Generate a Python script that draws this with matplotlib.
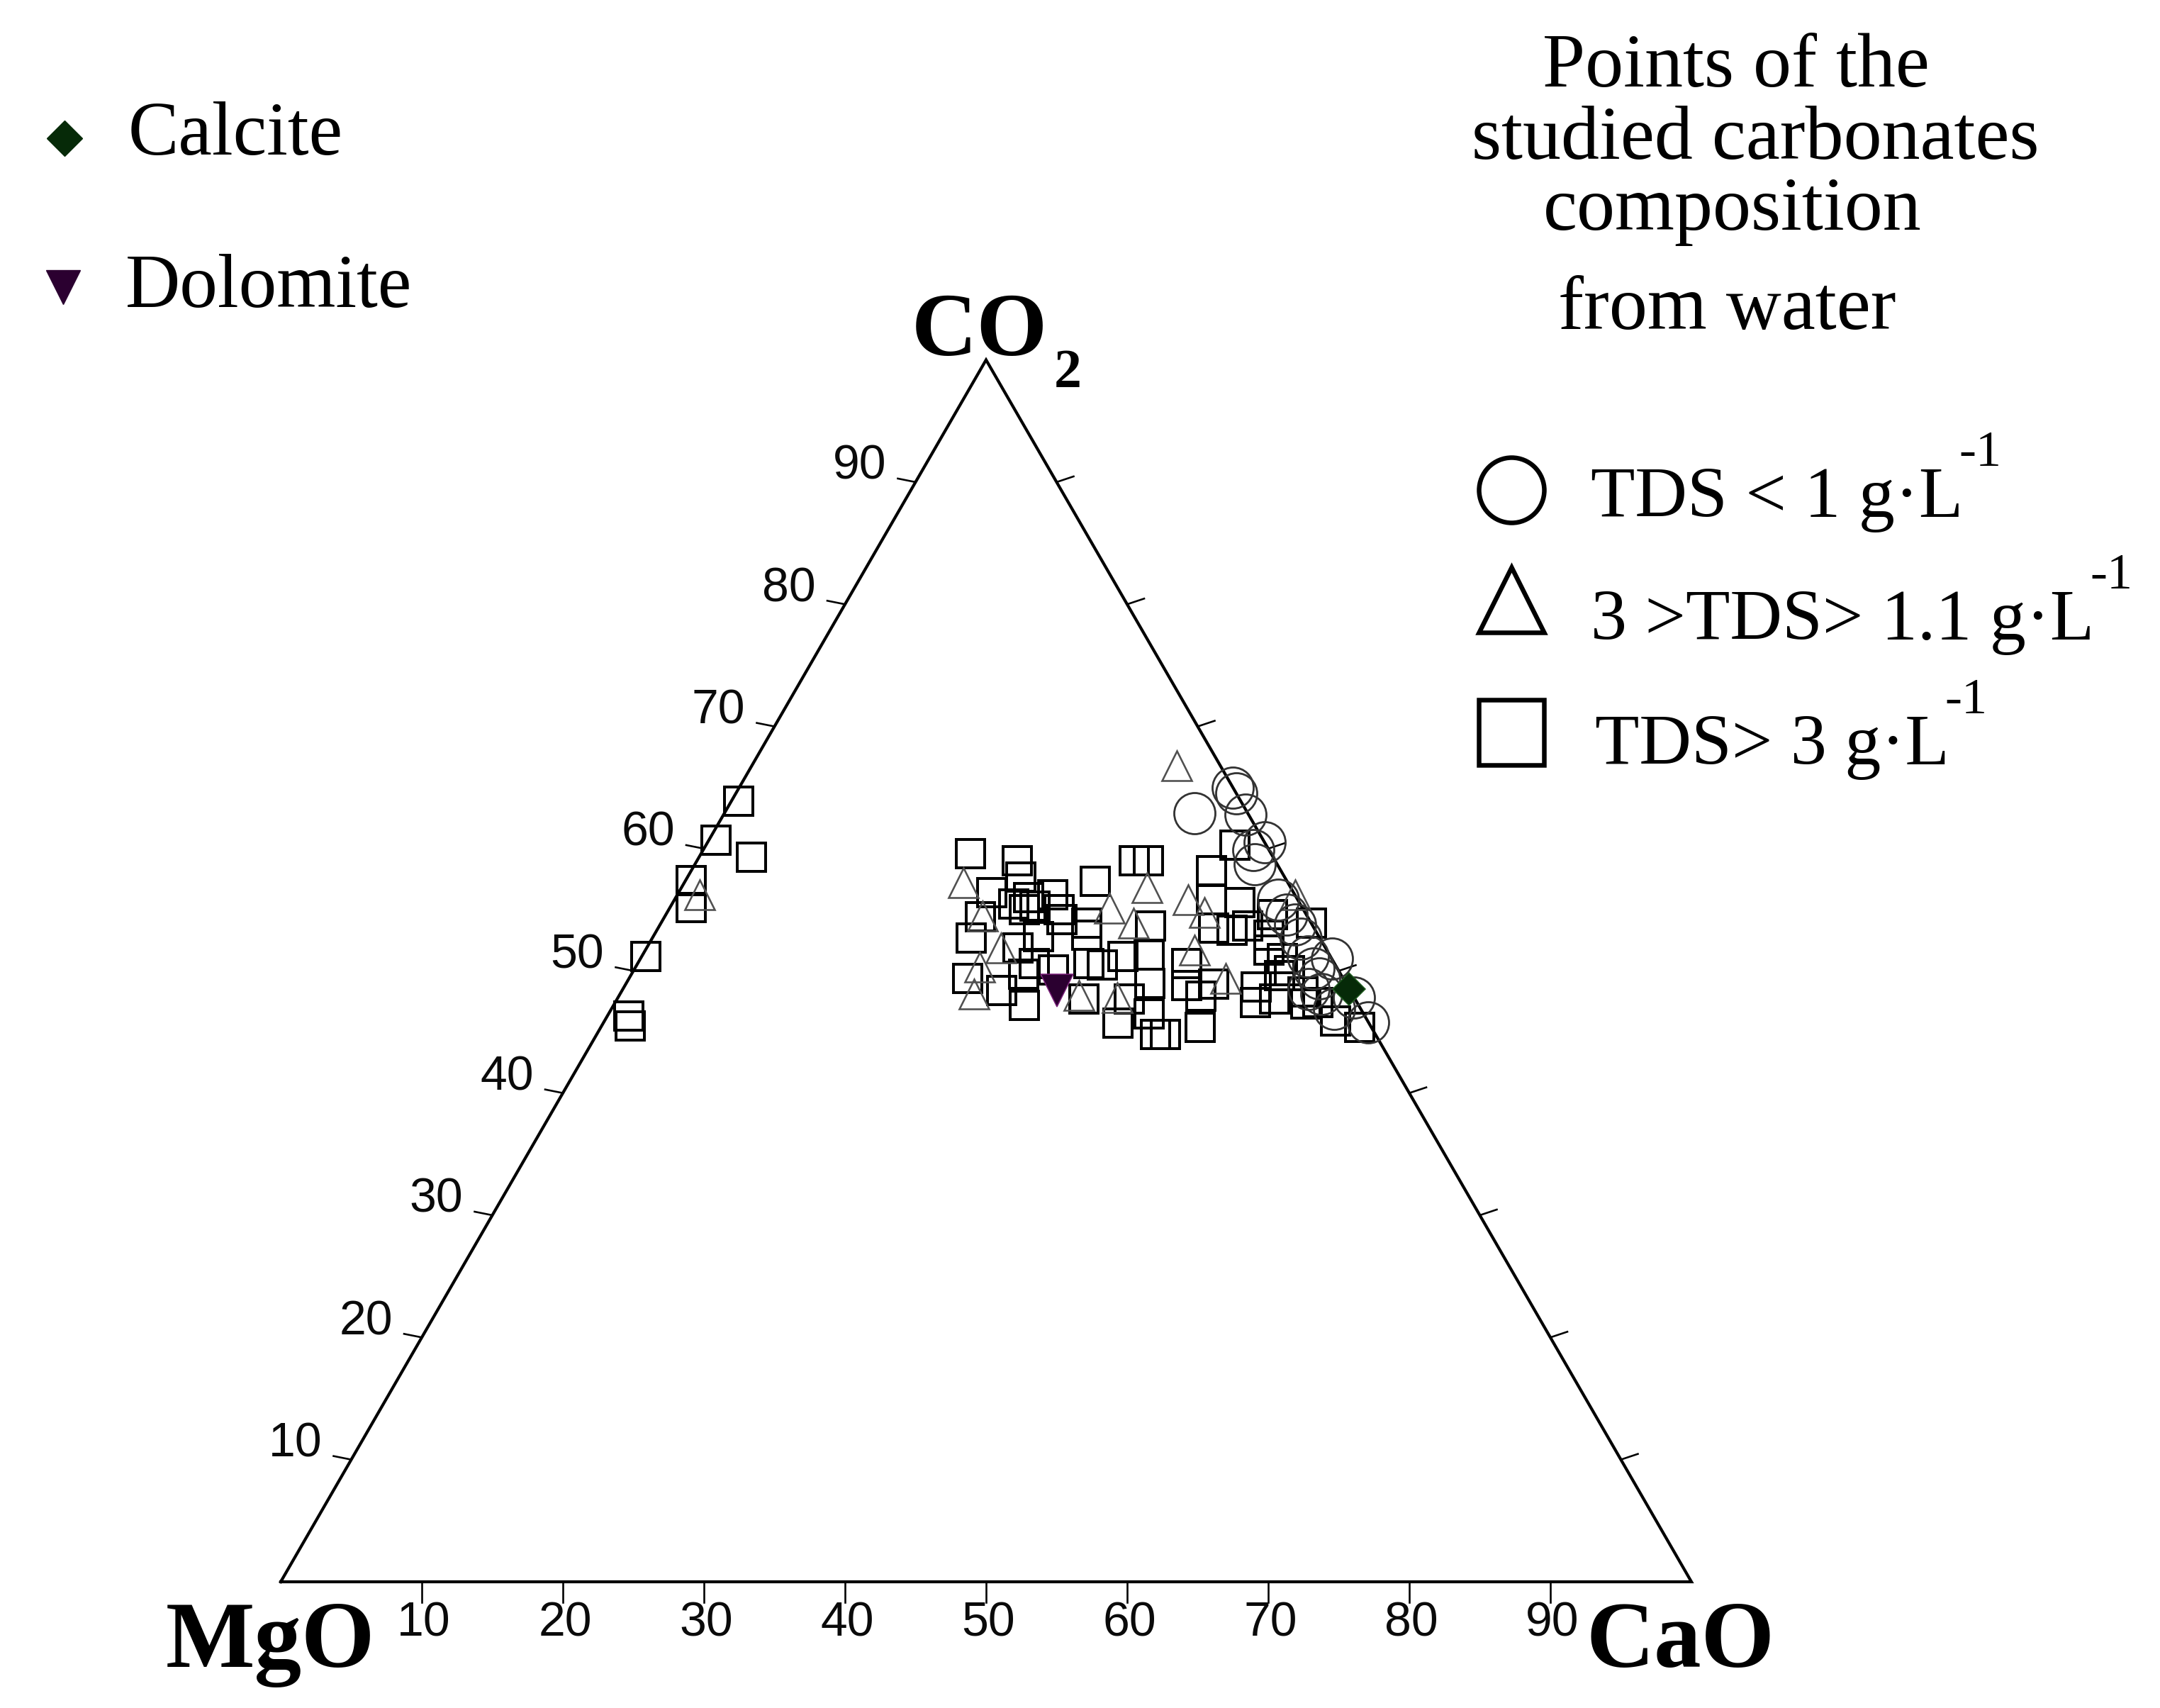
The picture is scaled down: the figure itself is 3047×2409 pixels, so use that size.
import numpy as np
import matplotlib
matplotlib.use("Agg")
import matplotlib.pyplot as plt
from matplotlib import font_manager

W, H, DPI = 3047, 2409, 100

# ---------------- data : CO2 % and CaO % (MgO = 100 - CO2 - CaO) ----------------
# TDS > 3 g/L  (squares)
sq_co2 = [63.9, 60.7, 59.3, 57.4, 55.2, 51.2, 46.3, 45.5,
          59.6, 59.0, 57.7, 56.4, 56.2, 55.5, 55.0, 55.3, 55.0, 54.4,
          52.7, 51.9, 52.8, 53.9, 57.3, 52.9, 49.4, 48.4, 49.7, 47.2,
          50.1, 47.7, 50.5, 51.2, 45.7, 47.7, 59.0, 59.0, 51.3, 53.7,
          46.5, 44.8, 49.0, 60.3, 58.2, 55.8, 55.6, 53.5, 53.3, 54.6,
          52.9, 53.9, 48.8, 47.9, 45.4, 44.8, 48.7, 47.4, 49.6, 47.3,
          45.9, 45.4, 51.0,
          53.7, 51.7, 50.0, 48.3, 47.4, 47.7, 56.0, 54.2, 50.6, 50.6,
          50.6, 48.9]
sq_cao = [0.5, 0.5, 3.7, 0.4, 1.5, 0.3, 1.5, 2.0,
          19.1, 22.7, 23.6, 22.2, 26.6, 24.2, 25.2, 25.8, 27.7, 22.4,
          22.6, 26.3, 27.3, 30.2, 29.1, 30.7, 24.0, 26.9, 27.8, 29.1,
          29.7, 33.1, 33.0, 34.1, 36.5, 36.3, 31.0, 32.0, 35.9, 34.8,
          38.3, 39.6, 37.1, 37.5, 36.9, 38.1, 40.2, 39.4, 40.8, 43.0,
          43.6, 46.1, 39.8, 41.3, 42.5, 40.3, 44.8, 45.4, 46.0, 49.0,
          51.8, 53.8, 45.5,
          41.7, 44.2, 46.5, 48.3, 49.8, 46.6, 25.0, 28.3, 28.1, 32.0,
          38.9, 41.7]

# 3 > TDS > 1.1 g/L  (triangles)
tri_co2 = [56.2, 57.2, 56.8, 55.1, 53.9, 50.3, 48.1, 48.0, 54.5,
           51.9, 66.8, 56.2, 55.8, 54.8, 49.4, 51.7, 47.8]
tri_cao = [1.6, 19.8, 33.0, 31.2, 33.5, 24.4, 25.1, 32.6, 22.5,
           25.1, 30.1, 43.8, 36.4, 38.1, 42.3, 38.9, 35.4]

# TDS < 1 g/L  (circles)
circ_co2 = [65.0, 64.5, 62.9, 62.8, 60.5, 58.7, 55.8, 54.6, 52.6, 51.2,
            50.2, 51.0, 48.1, 46.9, 45.8, 47.8, 53.8, 49.4, 48.5, 59.9]
circ_cao = [35.0, 35.5, 33.3, 37.0, 39.5, 39.7, 42.8, 44.0, 46.0, 47.2,
            48.1, 49.0, 49.7, 51.2, 54.2, 52.2, 45.0, 48.9, 48.6, 39.0]

# reference minerals
calcite_co2, calcite_cao = [48.5], [51.5]
dolomite_co2, dolomite_cao = [48.4], [30.8]

axis_ticks = [10, 20, 30, 40, 50, 60, 70, 80, 90]
title_lines = ["Points of the", "studied carbonates", "composition", "from water"]
tds_labels = ["TDS < 1 g\u00b7L", "3 >TDS> 1.1 g\u00b7L", "TDS> 3 g\u00b7L"]
mineral_labels = ["Calcite", "Dolomite"]


def tern(co2, cao):
    co2 = np.asarray(co2, float) / 100.0
    cao = np.asarray(cao, float) / 100.0
    return cao + 0.5 * co2, co2 * np.sqrt(3) / 2


SERIF = "Liberation Serif"
TICK_FONT = "Liberation Sans"

# layout (pixels of the output image)
S = 1990.0              # side of triangle
X0, Y0 = 396.0, 2231.0  # MgO vertex
px = 1.0 / S
pt = 0.72               # points per pixel at 100 dpi


def P(x, y):
    """image pixel (origin top-left) -> data coords"""
    return (x - X0) / S, (Y0 - y) / S


fig = plt.figure(figsize=(W / DPI, H / DPI), dpi=DPI)
ax = fig.add_axes([0, 0, 1, 1])
ax.set_xlim(-X0 / S, (W - X0) / S)
ax.set_ylim(-(H - Y0) / S, Y0 / S)
ax.axis("off")

# triangle frame
tx, ty = tern([0, 0, 100, 0], [0, 100, 0, 0])
ax.plot(tx, ty, color="black", lw=4.2 * pt, solid_joinstyle="miter", zorder=3)

tick_kw = dict(color="black", lw=2.6 * pt, zorder=3)
lab_font = dict(fontsize=68 * pt, family=TICK_FONT, color="#0a0a0a")
for t in axis_ticks:
    # left edge (CO2)
    x, y = tern(t, 0)
    ax.plot([x, x - 25 * px], [y, y + 5 * px], **tick_kw)
    ax.text(x - 79 * px, y + 22 * px, str(t), ha="center", va="center", **lab_font)
    # right edge (MgO) - ticks only
    x, y = tern(t, 100 - t)
    ax.plot([x, x + 24 * px], [y, y + 8 * px], **tick_kw)
    # bottom edge (CaO)
    x, y = tern(0, t)
    ax.plot([x, x], [y, y - 29 * px], **tick_kw)
    ax.text(x + 3 * px, y - 58 * px, str(t), ha="center", va="center", **lab_font)

# vertex labels
lab_kw = dict(family=SERIF, fontweight="bold", color="black")
ax.text(*P(381, 2351), "MgO", ha="center", va="baseline", fontsize=133 * pt, **lab_kw)
ax.text(*P(2371, 2351), "CaO", ha="center", va="baseline", fontsize=133 * pt, **lab_kw)
ax.text(*P(1382, 501), "CO", ha="center", va="baseline", fontsize=128 * pt, **lab_kw)
ax.text(*P(1487, 546), "2", ha="left", va="baseline", fontsize=78 * pt, **lab_kw)

# data points
x, y = tern(sq_co2, sq_cao)
ax.plot(x, y, ls="none", marker="s", ms=40 * pt, mfc="none", mec="black",
        mew=4.0 * pt, zorder=4)
x, y = tern(tri_co2, tri_cao)
ax.plot(x, y, ls="none", marker="^", ms=42 * pt, mfc="none", mec="#505050",
        mew=2.6 * pt, zorder=4)
x, y = tern(circ_co2, circ_cao)
ax.plot(x, y, ls="none", marker="o", ms=58 * pt, mfc="none", mec="#333333",
        mew=2.8 * pt, zorder=4)
x, y = tern(dolomite_co2, dolomite_cao)
ax.plot(x, y, ls="none", marker="v", ms=46 * pt, mfc="#2b0030", mec="#7a1f7a",
        mew=1.5 * pt, zorder=6)
x, y = tern(calcite_co2, calcite_cao)
ax.plot(x, y, ls="none", marker="D", ms=32 * pt, mfc="#062a08", mec="#1f5a1f",
        mew=1.5 * pt, zorder=6)

# mineral legend (upper left)
ax.plot(*P(91, 195), marker="D", ms=35 * pt, mfc="#062a08", mec="#062a08", ls="none")
ax.plot(*P(89, 405), marker="v", ms=48 * pt, mfc="#2b0030", mec="#2b0030", ls="none")
ax.text(*P(181, 218), mineral_labels[0], ha="left", va="baseline",
        fontsize=107 * pt, family=SERIF)
ax.text(*P(177, 433), mineral_labels[1], ha="left", va="baseline",
        fontsize=107 * pt, family=SERIF)

# TDS legend (upper right)
title_pos = [(2449, 122), (2476, 224), (2444, 324), (2436, 464)]
for s, (xx, yy) in zip(title_lines, title_pos):
    ax.text(*P(xx, yy), s, ha="center", va="baseline", fontsize=108 * pt, family=SERIF)

key_y = [691, 846, 1033]
key_m = ["o", "^", "s"]
for m, yy in zip(key_m, key_y):
    ax.plot(*P(2132, yy), marker=m, ms=92 * pt, mfc="none", mec="black",
            mew=6.5 * pt, ls="none")

fig.canvas.draw()
renderer = fig.canvas.get_renderer()
text_x = [2244, 2244, 2250]
text_base = [729, 902, 1078]
for s, xx, yy in zip(tds_labels, text_x, text_base):
    t = ax.text(*P(xx, yy), s, ha="left", va="baseline", fontsize=102 * pt, family=SERIF)
    bb = t.get_window_extent(renderer)
    ax.text(*P(bb.x1 - 6, yy - 72), "-1", ha="left", va="baseline",
            fontsize=72 * pt, family=SERIF)

fig.savefig("out.png", dpi=DPI, facecolor="white")
